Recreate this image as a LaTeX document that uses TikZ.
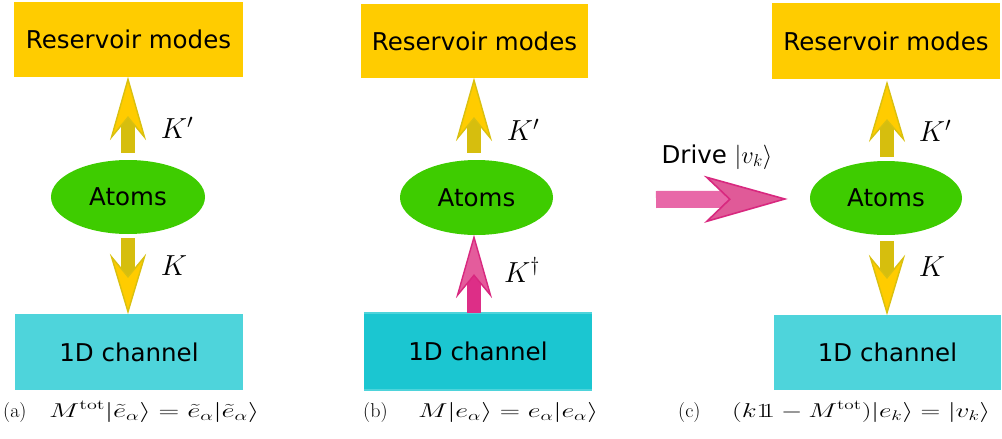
\documentclass[tikz,border=0pt]{standalone}
\usepackage{fix-cm}
\usepackage{graphicx}
\usepackage{fontspec}
\newfontfamily\dvs{DejaVu Sans}
\usetikzlibrary{calc,shapes.geometric}

\newcommand\bbone{\mathrm{1\mkern-4.5mu 1}}
\newcommand\capfont{\fontsize{20}{23}\selectfont}
% caption: tag in a box of width #1, then the formula stretched to width #2
\newcommand\captag[2]{\makebox[#1][l]{$\mathrm{#2}$}}
\newcommand\capeq[2]{\resizebox{#1}{\height}{$#2$}}

\definecolor{resv}{HTML}{FFCC00}
\definecolor{atomg}{HTML}{3ECC00}
\definecolor{chanA}{HTML}{4ED4DB}
\definecolor{chanB}{HTML}{1BC6D1}
\definecolor{yshaft}{HTML}{D6BE0E}
\definecolor{yedge}{HTML}{D9C010}
\definecolor{yhead}{HTML}{FFCC00}
\definecolor{pshaftB}{HTML}{DD2E87}
\definecolor{pedge}{HTML}{D8287F}
\definecolor{pheadB}{HTML}{E45C9C}
\definecolor{pshaftC}{HTML}{E868A8}
\definecolor{pheadC}{HTML}{E05A98}

% broad arrow between two named coordinates:
% #1 tail, #2 tip, #3 half shaft width, #4 half head width,
% #5 head length, #6 depth of the notch from the tip, #7 shaft style, #8 head style
\newcommand\fatarrow[8]{%
  \coordinate (fa-b) at ($(#2)!#5!(#1)$);
  \coordinate (fa-n) at ($(#2)!#6!(#1)$);
  \fill[#7] ($(#1)!#3!90:(#2)$) -- ($(fa-n)!#3!90:(#2)$)
            -- ($(fa-n)!#3!-90:(#2)$) -- ($(#1)!#3!-90:(#2)$) -- cycle;
  \filldraw[#8] (#2) -- ($(fa-b)!#4!90:(#2)$) -- (fa-n)
            -- ($(fa-b)!#4!-90:(#2)$) -- cycle;
}

\tikzset{
  sans/.style={font=\dvs\fontsize{24.5}{28}\selectfont},
  resbox/.style={sans, rectangle, fill=resv, inner sep=0, minimum width=228, minimum height=75},
  chanbox/.style={sans, rectangle, fill=chanA, inner sep=0, minimum width=228, minimum height=76},
  atoms/.style={sans, ellipse, fill=atomg, inner sep=0, minimum width=153, minimum height=74},
  klabel/.style={font=\fontsize{29}{32}\selectfont, inner sep=0},
  captext/.style={inner sep=0, anchor=base west, font=\capfont},
  yarrowshaft/.style={fill=yshaft},
  yarrowhead/.style={fill=yhead, draw=yedge, line width=1.4pt, line join=miter},
  parrowshaft/.style={fill=pshaftB},
  parrowhead/.style={fill=pheadB, draw=pedge, line width=1.4pt, line join=miter},
  darrowshaft/.style={fill=pshaftC},
  darrowhead/.style={fill=pheadC, draw=pedge, line width=1.6pt, line join=miter},
}

\begin{document}
\begin{tikzpicture}[x=1pt, y=-1pt]
\useasboundingbox (0,0) rectangle (1002,439);

% ---------- panel (a) ----------
\node[resbox, minimum width=229] (resA) at (128.5,39.5) {Reservoir modes};
\node[atoms, minimum width=154] (atA) at (128,197) {Atoms};
\node[chanbox] (chA) at (129,352) {1D channel};
\coordinate (aU0) at ($(atA.north)+(0,-7)$);
\coordinate (aU1) at ($(resA.south)+(-0.5,2)$);
\coordinate (aD0) at ($(atA.south)+(0,4)$);
\coordinate (aD1) at ($(chA.north)+(-1,-2)$);
\fatarrow{aU0}{aU1}{7pt}{16.5pt}{58pt}{38pt}{yarrowshaft}{yarrowhead}
\fatarrow{aD0}{aD1}{7pt}{16.5pt}{55pt}{35pt}{yarrowshaft}{yarrowhead}
\node[klabel] (kpA) at (177,128) {$K'$};
\node[klabel] (kA) at (174,266) {$K$};
\node[captext] (capA) at (3,417)
  {\captag{46pt}{(a)}\capeq{210pt}{M^{\mathrm{tot}}|\tilde e_\alpha\rangle=\tilde e_\alpha|\tilde e_\alpha\rangle}};

% ---------- panel (b) ----------
\node[resbox, minimum width=227, minimum height=74] (resB) at (474.5,41) {Reservoir modes};
\node[atoms, minimum height=75] (atB) at (476.5,197.5) {Atoms};
\node[chanbox, fill=chanB, minimum height=77] (chB) at (478,351.5) {1D channel};
\draw[chanA, line width=1.5pt] (chB.north west) -- (chB.north east);
\draw[chanA, line width=1.5pt] (chB.south west) -- (chB.south east);
\coordinate (bU0) at ($(atB.north)+(-2.5,-7)$);
\coordinate (bU1) at ($(resB.south)+(-0.5,2)$);
\coordinate (bP0) at ($(chB.north)+(-4,0)$);
\coordinate (bP1) at ($(atB.south)+(-2.5,2)$);
\fatarrow{bU0}{bU1}{7pt}{16.5pt}{58pt}{38pt}{yarrowshaft}{yarrowhead}
\fatarrow{bP0}{bP1}{7pt}{16.5pt}{58pt}{38pt}{parrowshaft}{parrowhead}
\node[klabel] (kpB) at (523,130) {$K'$};
\node[klabel] (kdB) at (522,270) {$K^\dagger$};
\node[captext] (capB) at (363,417)
  {\captag{55pt}{(b)}\capeq{180pt}{M|e_\alpha\rangle=e_\alpha|e_\alpha\rangle}};

% ---------- panel (c) ----------
\node[resbox, minimum height=76] (resC) at (886,41) {Reservoir modes};
\node[atoms, minimum width=152] (atC) at (886,198) {Atoms};
\node[chanbox, minimum width=227, minimum height=75] (chC) at (887.5,352.5) {1D channel};
\coordinate (cU0) at ($(atC.north)+(1,-4)$);
\coordinate (cU1) at ($(resC.south)+(1,4)$);
\coordinate (cD0) at ($(atC.south)+(1,6)$);
\coordinate (cD1) at ($(chC.north)+(-0.5,-2)$);
\fatarrow{cU0}{cU1}{7pt}{16.5pt}{56pt}{37pt}{yarrowshaft}{yarrowhead}
\fatarrow{cD0}{cD1}{7pt}{16.5pt}{55pt}{35pt}{yarrowshaft}{yarrowhead}
\node[klabel] (kpC) at (935,131) {$K'$};
\node[klabel] (kC) at (932,267) {$K$};
\coordinate (drv0) at (656,199.5);
\coordinate (drv1) at ($(atC.west)+(-25,1)$);
\fatarrow{drv0}{drv1}{8.5pt}{22pt}{78pt}{55pt}{darrowshaft}{darrowhead}
\node[sans, inner sep=0] (drvlab) at (717,157) {Drive $|v_k\rangle$};
\node[captext] (capC) at (678,417)
  {\captag{54pt}{(c)}\capeq{258pt}{(k\bbone-M^{\mathrm{tot}})|e_k\rangle=|v_k\rangle}};
\end{tikzpicture}
\end{document}
